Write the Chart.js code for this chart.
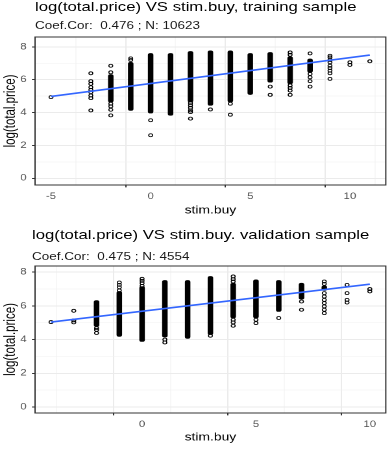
<!DOCTYPE html>
<html>
<head>
<meta charset="utf-8">
<script src="https://cdn.jsdelivr.net/npm/chart.js@4.4.1/dist/chart.umd.min.js"></script>
<style>
  html, body { margin: 0; padding: 0; background: #fff; }
  body { position: relative; width: 392px; height: 449px; overflow: hidden; }
  canvas { display: block; }
  .ttl {
    position: absolute; left: 35px; margin: 0; white-space: pre; line-height: 1;
    font-family: 'Liberation Sans', Arial, sans-serif; font-weight: normal;
    transform: scaleX(1.298); transform-origin: 0 0;
  }
  .main { font-size: 12.9px; color: #000; }
  .sub { font-size: 10.4px; color: #1a1a1a; }
</style>
</head>
<body>
<canvas id="train" width="302" height="224" style="width:392px;height:224px"></canvas>
<canvas id="valid" width="302" height="225" style="width:392px;height:225px"></canvas>
<div id="trainTitle" class="ttl main" style="top:1.3px"></div>
<div id="trainSub" class="ttl sub" style="top:20.6px"></div>
<div id="validTitle" class="ttl main" style="top:228.5px;left:32px"></div>
<div id="validSub" class="ttl sub" style="top:251.8px;left:32px"></div>
<script>
// --- training sample ---
// dense columns: lowest / highest value of the stacked points at each stim.buy
const trainCols = [-2, -1, 0, 1, 2, 3, 4, 5, 6, 7, 8];
const trainLow  = [4.64, 4.13, 3.97, 3.83, 4.64, 4.44, 4.64, 5.10, 5.85, 5.75, 6.45];
const trainHigh = [6.31, 7.06, 7.60, 7.60, 7.72, 7.76, 7.76, 7.60, 7.66, 7.40, 7.26];
// single points outside the dense parts
const trainPtX = [-5, -3, -3, -3, -3, -3, -3, -3, -3, -3, -2, -2, -2, -2, -2, -2, -1, -1, 0, 0,
                  2, 2, 2, 2, 2, 2, 3, 4, 4, 6, 6, 7, 7, 7, 7, 7, 7, 8, 8, 8, 8, 8,
                  9, 9, 9, 9, 9, 9, 9, 9, 9, 10, 10, 11];
const trainPtY = [4.94, 6.39, 5.91, 5.75, 5.54, 5.38, 5.24, 5.04, 4.88, 4.13, 6.85, 6.45, 4.54, 4.38, 4.17, 3.83, 7.30, 7.20, 3.53, 2.62,
                  4.58, 4.44, 4.29, 4.13, 4.03, 3.63, 4.19, 4.54, 3.87, 5.58, 5.08, 7.66, 7.52, 5.65, 5.50, 5.34, 5.08, 7.60, 6.35, 6.15, 5.91, 5.58,
                  7.46, 7.36, 7.20, 7.06, 6.85, 6.71, 6.55, 6.39, 6.05, 7.06, 6.90, 7.12];
const trainFitX = [-5, 11];
const trainFitY = [4.98, 7.50];
const trainTitle = 'log(total.price) VS stim.buy, training sample';
const trainSub = 'Coef.Cor:  0.476 ; N: 10623';

// --- validation sample ---
const validCols = [-2, -1, 0, 1, 2, 3, 4, 5, 6, 7, 8];
const validLow  = [4.78, 4.19, 3.89, 4.15, 4.07, 4.30, 5.28, 5.28, 5.67, 6.40, 6.92];
const validHigh = [6.32, 6.86, 7.15, 7.51, 7.51, 7.75, 7.35, 7.55, 7.51, 7.35, 7.19];
const validPtX = [-4, -3, -3, -3, -2, -2, -2, -1, -1, -1, -1, 0, 0, 0, 0, 1, 1, 3,
                  4, 4, 4, 4, 4, 4, 5, 5, 6, 7, 7, 8, 8, 8, 8, 8, 8, 8, 8, 8, 9, 9, 9, 9, 10, 10];
const validPtY = [5.04, 5.71, 5.14, 5.02, 4.68, 4.58, 4.39, 7.39, 7.25, 7.11, 6.92, 7.61, 7.49, 7.35, 7.19, 4.00, 3.83, 4.23,
                  7.75, 7.59, 7.45, 5.18, 5.02, 4.82, 5.18, 4.98, 5.28, 6.26, 5.77, 7.45, 7.31, 6.76, 6.56, 6.36, 6.17, 5.97, 5.77, 5.57,
                  7.25, 6.76, 6.36, 6.20, 7.00, 6.86];
const validFitX = [-4, 10];
const validFitY = [5.04, 7.29];
const validTitle = 'log(total.price) VS stim.buy. validation sample';
const validSub = 'Coef.Cor:  0.475 ; N: 4554';

// axes
const yTicks = [0, 2, 4, 6, 8];
const yMinor = [1, 3, 5, 7];
const trainXTicks = [-5, 0, 5, 10];
const trainXMinor = [-2.5, 2.5, 7.5];
const validXTicks = [0, 5, 10];
const validXMinor = [-2.5, 2.5, 7.5];

Chart.defaults.font.family = "'Liberation Sans', Arial, sans-serif";

document.getElementById('trainTitle').textContent = trainTitle;
document.getElementById('trainSub').textContent = trainSub;
document.getElementById('validTitle').textContent = validTitle;
document.getElementById('validSub').textContent = validSub;

// dark frame round the panel
const panelBorder = {
  id: 'panelBorder',
  afterDraw(chart) {
    const { ctx, chartArea: a } = chart;
    ctx.save();
    ctx.strokeStyle = '#333333';
    ctx.lineWidth = 1;
    ctx.strokeRect(a.left, a.top, a.right - a.left, a.bottom - a.top);
    ctx.restore();
  }
};

function zip(xs, ys) {
  return xs.map((x, i) => ({ x: x, y: ys[i] }));
}

function gridOpts(major) {
  const isMajor = c => c.tick && major.includes(c.tick.value);
  return {
    color: c => isMajor(c) ? '#EBEBEB' : '#F2F2F2',
    lineWidth: c => isMajor(c) ? 1 : 0.6,
    tickColor: c => isMajor(c) ? '#333333' : 'rgba(0,0,0,0)',
    tickLength: 2.4
  };
}

function drawPanel(id, p) {
  const xAll = p.xTicks.concat(p.xMinor).sort((a, b) => a - b);
  const yAll = yTicks.concat(yMinor).sort((a, b) => a - b);
  new Chart(document.getElementById(id), {
    type: 'scatter',
    data: {
      datasets: [
        {
          type: 'line',
          data: zip(p.fitX, p.fitY),
          borderColor: '#3366FF',
          borderWidth: 1.6,
          pointRadius: 0,
          fill: false
        },
        {
          type: 'scatter',
          data: zip(p.ptX, p.ptY),
          pointRadius: 1.5,
          borderWidth: 0.8,
          borderColor: '#000000',
          backgroundColor: 'rgba(0,0,0,0)'
        },
        {
          type: 'bar',
          data: p.cols.map((x, i) => ({ x: x, y: [p.low[i], p.high[i]] })),
          backgroundColor: '#000000',
          barThickness: 3.6,
          borderRadius: 1.8,
          borderSkipped: false
        }
      ]
    },
    options: {
      responsive: false,
      devicePixelRatio: 2,
      animation: false,
      layout: { padding: { top: p.areaTop, left: 0, right: 2, bottom: 0 } },
      plugins: {
        legend: { display: false },
        tooltip: { enabled: false }
      },
      scales: {
        x: {
          type: 'linear', min: p.xMin, max: p.xMax, offset: false,
          afterBuildTicks: axis => { axis.ticks = xAll.map(v => ({ value: v })); },
          afterFit: s => { s.height = p.xh; },
          ticks: {
            autoSkip: false, maxRotation: 0, padding: 4.1, color: '#4D4D4D', font: { size: 8.8 },
            callback: v => p.xTicks.includes(v) ? String(v) : ''
          },
          grid: gridOpts(p.xTicks),
          border: { display: false },
          title: {
            display: true, text: 'stim.buy', color: '#000000', font: { size: 10.7 },
            padding: { top: 0, bottom: p.xtb }
          }
        },
        y: {
          type: 'linear', min: p.yMin, max: p.yMax,
          afterBuildTicks: axis => { axis.ticks = yAll.map(v => ({ value: v })); },
          afterFit: s => { s.width = 27; },
          ticks: {
            autoSkip: false, padding: 4.1, color: '#4D4D4D', font: { size: 8.8 },
            callback: v => yTicks.includes(v) ? String(v) : ''
          },
          grid: gridOpts(yTicks),
          border: { display: false },
          title: {
            display: true, text: 'log(total.price)', color: '#000000', font: { size: 11.5 },
            padding: { top: 1.6, bottom: 0 }
          }
        }
      }
    },
    plugins: [panelBorder]
  });
}

drawPanel('train', {
  cols: trainCols, low: trainLow, high: trainHigh,
  ptX: trainPtX, ptY: trainPtY, fitX: trainFitX, fitY: trainFitY,
  xTicks: trainXTicks, xMinor: trainXMinor,
  xMin: -5.8, xMax: 11.8, yMin: -0.41, yMax: 8.6,
  areaTop: 37, xh: 39, xtb: 6.8
});

drawPanel('valid', {
  cols: validCols, low: validLow, high: validHigh,
  ptX: validPtX, ptY: validPtY, fitX: validFitX, fitY: validFitY,
  xTicks: validXTicks, xMinor: validXMinor,
  xMin: -4.7, xMax: 10.7, yMin: -0.36, yMax: 8.37,
  areaTop: 42, xh: 36, xtb: 5.1
});
</script>
</body>
</html>
